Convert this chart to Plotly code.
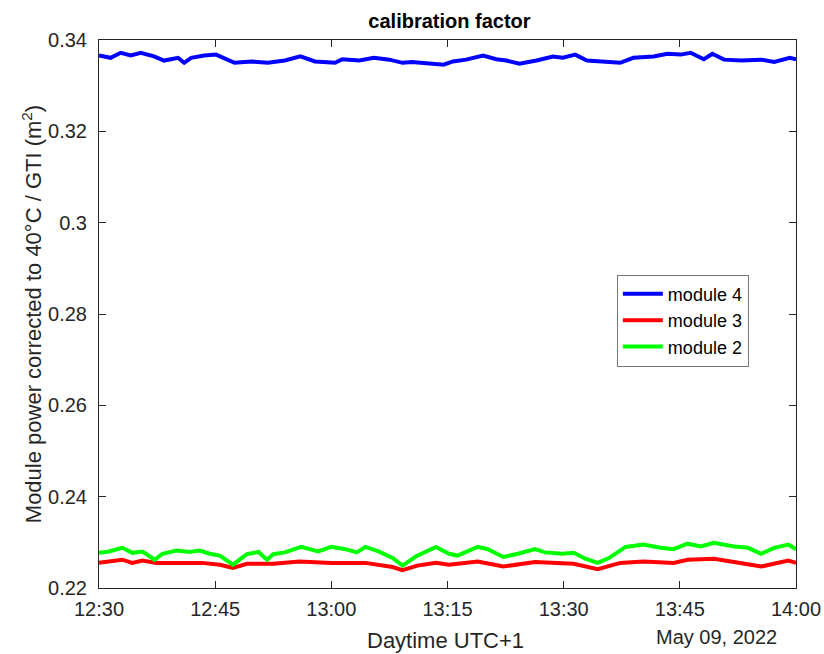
import pandas as pd
import plotly.graph_objects as go

# minutes after 12:30 and values
t4 = [0, 1.5, 2.8, 4.1, 5.4, 7.1, 8.4, 10.2, 11.0, 11.9, 13.6, 15.1, 17.5, 19.7, 21.8, 24.0, 26.0, 27.9,
      30.5, 31.4, 33.6, 35.5, 37.5, 39.2, 40.4, 42.7, 44.5, 45.7, 47.4, 49.6, 51.3, 52.6, 54.3, 56.5,
      58.6, 59.9, 61.5, 63.0, 65.6, 67.3, 69.0, 71.6, 73.4, 75.1, 76.4, 78.1, 79.2, 80.7, 82.9, 85.5,
      87.2, 89.2, 90.0]
module4 = [0.3366, 0.3361, 0.3372, 0.3366, 0.3372, 0.3364, 0.3355, 0.3361, 0.3350, 0.3361, 0.3366,
           0.3368, 0.3350, 0.3353, 0.3350, 0.3355, 0.3364, 0.3353, 0.3350, 0.3358, 0.3355, 0.3361,
           0.3357, 0.3350, 0.3352, 0.3348, 0.3346, 0.3353, 0.3357, 0.3366, 0.3358, 0.3355, 0.3348,
           0.3355, 0.3364, 0.3361, 0.3368, 0.3355, 0.3353, 0.3350, 0.3361, 0.3364, 0.3370, 0.3368,
           0.3372, 0.3358, 0.3370, 0.3357, 0.3355, 0.3357, 0.3352, 0.3361, 0.3358]

t3 = [0, 3.0, 4.3, 5.6, 7.4, 10.0, 13.3, 15.6, 17.3, 19.1, 20.6, 22.5, 25.9, 30.0, 34.4, 37.9, 39.2,
      41.1, 43.5, 45.2, 48.9, 52.2, 56.3, 61.3, 64.4, 67.3, 70.3, 74.2, 76.0, 79.4, 82.0, 85.5, 89.0, 90.0]
module3 = [0.2255, 0.2262, 0.2255, 0.2260, 0.2255, 0.2255, 0.2255, 0.2251, 0.2244, 0.2253, 0.2253,
           0.2253, 0.2258, 0.2255, 0.2255, 0.2246, 0.2239, 0.2249, 0.2255, 0.2251, 0.2258, 0.2247,
           0.2257, 0.2253, 0.2241, 0.2255, 0.2258, 0.2255, 0.2262, 0.2264, 0.2257, 0.2247, 0.2260, 0.2255]

t2 = [0, 1.3, 3.0, 4.3, 5.6, 7.2, 8.2, 10.0, 11.7, 13.0, 14.3, 15.6, 17.3, 19.1, 20.6, 21.7, 22.5,
      24.0, 26.1, 28.3, 30.0, 31.8, 33.3, 34.4, 36.1, 37.9, 39.2, 40.9, 43.5, 45.2, 46.3, 48.9, 50.2,
      52.2, 54.1, 56.3, 57.6, 59.8, 61.3, 62.8, 64.4, 65.9, 68.0, 70.3, 72.5, 74.2, 76.0, 77.7, 79.4,
      82.0, 83.8, 85.5, 87.2, 89.0, 90.0]
module2 = [0.2277, 0.2280, 0.2288, 0.2277, 0.2280, 0.2262, 0.2275, 0.2282, 0.2279, 0.2282, 0.2275,
           0.2271, 0.2251, 0.2274, 0.2279, 0.2262, 0.2274, 0.2278, 0.2290, 0.2280, 0.2290, 0.2285,
           0.2278, 0.2290, 0.2280, 0.2266, 0.2249, 0.2269, 0.2290, 0.2275, 0.2271, 0.2290, 0.2285,
           0.2268, 0.2275, 0.2285, 0.2278, 0.2275, 0.2277, 0.2264, 0.2255, 0.2266, 0.2290, 0.2295,
           0.2288, 0.2285, 0.2297, 0.2291, 0.2299, 0.2291, 0.2288, 0.2275, 0.2288, 0.2295, 0.2285]

y_ticks = [0.22, 0.24, 0.26, 0.28, 0.30, 0.32, 0.34]
y_tick_text = ["0.22", "0.24", "0.26", "0.28", "0.3", "0.32", "0.34"]

base = pd.Timestamp("2022-05-09 12:30:00")
def to_time(ts):
    return [base + pd.Timedelta(minutes=m) for m in ts]

FONT = "Liberation Sans, Arial, Helvetica, sans-serif"
AX = "#262626"

fig = go.Figure()
fig.add_trace(go.Scatter(x=to_time(t4), y=module4, mode="lines", name="module 4",
                         line=dict(color="#0000ff", width=4)))
fig.add_trace(go.Scatter(x=to_time(t3), y=module3, mode="lines", name="module 3",
                         line=dict(color="#ff0000", width=4)))
fig.add_trace(go.Scatter(x=to_time(t2), y=module2, mode="lines", name="module 2",
                         line=dict(color="#00ff00", width=4)))

fig.update_layout(
    width=824, height=654,
    margin=dict(l=99, r=28, t=40, b=66),
    paper_bgcolor="white", plot_bgcolor="white",
    font=dict(family=FONT, color=AX, size=20),
    title=dict(text="<b>calibration factor</b>", x=0.5455, xanchor="center", y=0.968, yanchor="middle",
               font=dict(size=20, color="black")),
    showlegend=True,
    legend=dict(x=0.743, y=0.572, xanchor="left", yanchor="top", bgcolor="white",
                bordercolor="#777777", borderwidth=1, font=dict(size=18, color="black"),
                tracegroupgap=0, itemwidth=40),
)
fig.update_xaxes(
    range=[base, base + pd.Timedelta(minutes=90)], tickformat="%H:%M",
    dtick=15 * 60 * 1000, tick0=base, automargin=False,
    showline=True, mirror="ticks", linecolor=AX, linewidth=1,
    ticks="inside", ticklen=7, tickcolor=AX, showgrid=False, zeroline=False,
    tickfont=dict(size=20, color=AX), ticklabelstandoff=3,
)
fig.update_yaxes(
    range=[0.22, 0.34], tickvals=y_ticks, ticktext=y_tick_text, automargin=False,
    showline=True, mirror="ticks", linecolor=AX, linewidth=1,
    ticks="inside", ticklen=7, tickcolor=AX, showgrid=False, zeroline=False,
    tickfont=dict(size=20, color=AX), ticklabelstandoff=7,
    title=dict(text="Module power corrected to 40°C / GTI (m<sup>2</sup>)",
               font=dict(size=22, color=AX), standoff=0),
)
fig.add_annotation(text="Daytime UTC+1", xref="paper", yref="paper", x=0.497, y=-0.0967,
                   xanchor="center", yanchor="middle", showarrow=False,
                   font=dict(size=22, color=AX))
fig.add_annotation(text="May 09, 2022", xref="paper", yref="paper", x=0.9755, y=-0.0894,
                   xanchor="right", yanchor="middle", showarrow=False,
                   font=dict(size=20, color=AX))

fig.write_html("out.html")
